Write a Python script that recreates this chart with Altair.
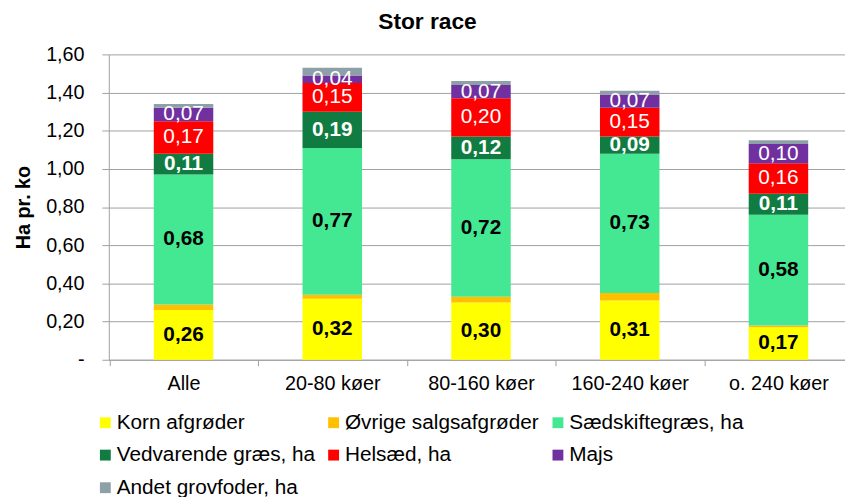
import altair as alt
import pandas as pd

# ---- data ----
categories = ["Alle", "20-80 køer", "80-160 køer", "160-240 køer", "o. 240 køer"]
series_names = ["Korn afgrøder", "Øvrige salgsafgrøder", "Sædskiftegræs, ha",
                "Vedvarende græs, ha", "Helsæd, ha", "Majs", "Andet grovfoder, ha"]
korn = [0.26, 0.32, 0.30, 0.31, 0.17]
ovrige = [0.03, 0.02, 0.03, 0.04, 0.01]
saedskifte = [0.68, 0.77, 0.72, 0.73, 0.58]
vedvarende = [0.11, 0.19, 0.12, 0.09, 0.11]
helsaed = [0.17, 0.15, 0.20, 0.15, 0.16]
majs = [0.07, 0.04, 0.07, 0.07, 0.10]
andet = [0.02, 0.04, 0.02, 0.02, 0.02]
y_ticks = [0, 0.2, 0.4, 0.6, 0.8, 1.0, 1.2, 1.4, 1.6]

colors = ["#FFFF00", "#FFC000", "#45E892", "#107C41", "#FF0000", "#7030A0", "#8EA0A7"]

series_values = [korn, ovrige, saedskifte, vedvarende, helsaed, majs, andet]
rows = []
for si, (name, vals) in enumerate(zip(series_names, series_values)):
    for cat, v in zip(categories, vals):
        rows.append({"cat": cat, "series": name, "value": v, "order": si})
df = pd.DataFrame(rows)

FONT = "Liberation Sans"
GRID = "#A0A0A0"

x_enc = alt.X("cat:N", sort=categories,
              scale=alt.Scale(paddingInner=0.6, paddingOuter=0.275, align=0.55),
              axis=alt.Axis(title=None, labelAngle=0, labelFont=FONT, labelFontSize=20,
                            labelColor="#000000", tickOffset=-75, labelOffset=75, tickSize=6,
                            tickColor=GRID, domainColor=GRID, labelPadding=8))

y_axis = alt.Axis(title="Ha pr. ko", titleFont=FONT, titleFontSize=20, titleFontWeight="bold",
                  titleColor="#000000", titlePadding=12,
                  values=y_ticks,
                  labelExpr="datum.value == 0 ? '-' : replace(format(datum.value, '.2f'), '.', ',')",
                  labelFont=FONT, labelFontSize=20, labelColor="#000000", labelPadding=18,
                  tickSize=7, tickColor=GRID, domainColor=GRID,
                  grid=True, gridColor=GRID, gridWidth=1)
y_scale = alt.Scale(domain=[0, 1.6], nice=False)

base = alt.Chart(df)

bars = base.mark_bar().encode(
    x=x_enc,
    y=alt.Y("value:Q", stack="zero", scale=y_scale, axis=y_axis),
    color=alt.Color("series:N", sort=series_names,
                    scale=alt.Scale(domain=series_names, range=colors),
                    legend=alt.Legend(title=None, orient="none", legendX=-14, legendY=362,
                                      direction="horizontal",
                                      columns=3, symbolType="square", symbolSize=121,
                                      symbolStrokeWidth=0, labelFont=FONT, labelFontSize=21,
                                      labelColor="#000000", rowPadding=11, columnPadding=8,
                                      labelOffset=1, labelLimit=400)),
    order=alt.Order("order:Q", sort="ascending"),
)

lab = base.transform_stack(
    stack="value", groupby=["cat"], sort=[alt.SortField("order", "ascending")], as_=["v0", "v1"]
).transform_calculate(
    mid="(datum.v0 + datum.v1) / 2",
    label="replace(format(datum.value, '.2f'), '.', ',')",
)

def text_layer(names, color, weight):
    return lab.transform_filter(
        alt.FieldOneOfPredicate(field="series", oneOf=names)
    ).mark_text(font=FONT, fontSize=21, fontWeight=weight, color=color,
                align="center", baseline="middle").encode(
        x=x_enc,
        y=alt.Y("mid:Q", scale=y_scale, axis=y_axis),
        text="label:N",
    )

t_black = text_layer([series_names[0], series_names[2]], "#000000", "bold")
t_white_b = text_layer([series_names[3]], "#FFFFFF", "bold")
t_white = text_layer([series_names[4], series_names[5]], "#FFFFFF", "normal")

chart = alt.layer(bars, t_black, t_white_b, t_white).properties(
    width=745, height=309,
    padding={"left": 6, "top": 0, "right": 0, "bottom": 0},
    title=alt.TitleParams("Stor race", font=FONT, fontSize=23, fontWeight="bold",
                          color="#000000", anchor="middle", dx=-50, offset=11),
).configure_view(stroke="transparent")

chart.save("out.html", embed_options={"renderer": "svg", "actions": False})
